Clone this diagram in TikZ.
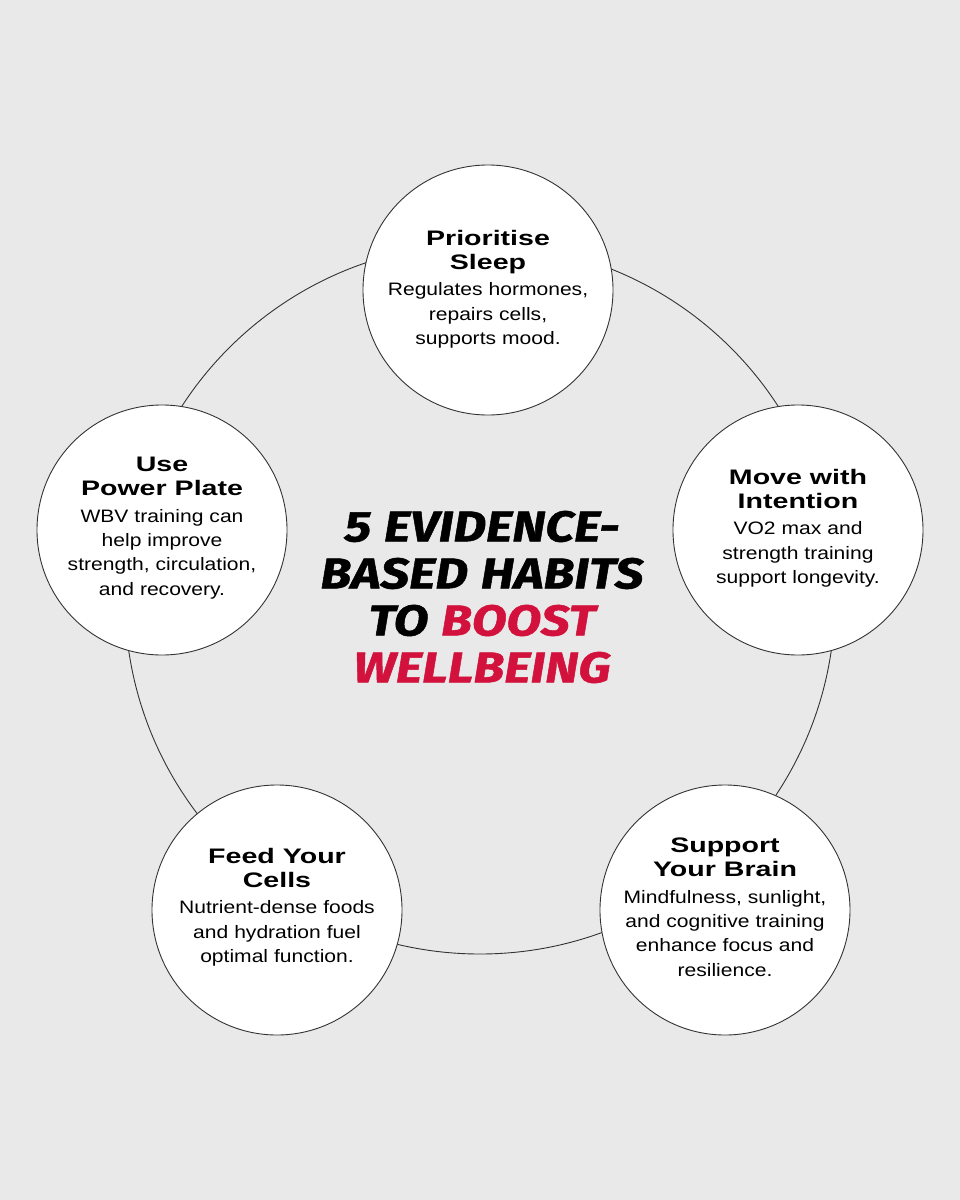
\documentclass[tikz,border=0pt]{standalone}
\usepackage{fontspec}
\newfontfamily\hfont{Liberation Sans}[FakeStretch=1.36]
\newfontfamily\bfont{Liberation Sans}[FakeStretch=1.17]
\newfontfamily\titlefont{Fira Sans}[FakeBold=1.2, FakeStretch=1.18]
\definecolor{bgc}{HTML}{E9E9E9}
\definecolor{linec}{HTML}{333333}
\definecolor{boostred}{HTML}{D2123C}
\newcommand\habitbox[2]{{\hfont\bfseries\fontsize{21}{24}\selectfont\spaceskip=0.38em #1\par}\vspace{2.5pt}{\bfont\fontsize{18}{24.3}\selectfont\spaceskip=0.33em #2\par}}
\tikzset{
  habit/.style={circle, draw=linec, line width=0.9pt, fill=white, minimum size=250pt, inner sep=0pt},
  habittext/.style={inner sep=0pt, text width=240pt, align=center},
  ring/.style={draw=linec, line width=0.9pt},
  title/.style={align=center, font={\titlefont\bfseries\itshape\fontsize{43}{47}\selectfont\spaceskip=0.3em}}
}
\begin{document}
\begin{tikzpicture}[x=1pt,y=-1pt]
\fill[bgc] (0,0) rectangle (960,1200);
\useasboundingbox (0,0) rectangle (960,1200);
\coordinate (c) at (480,599);
\draw[ring] (c) circle[radius=355];
\node[habit] (sleep) at (488,290) {};
\node[habit] (move) at (798,530) {};
\node[habit] (power) at (162,530) {};
\node[habit] (feed) at (277,910) {};
\node[habit] (brain) at (725,910) {};
\node[habittext] (sleept) at ([yshift=1pt]sleep.center) {\habitbox{Prioritise\\Sleep}{Regulates hormones,\\repairs cells,\\supports mood.}};
\node[habittext] (movet) at ([yshift=2pt]move.center) {\habitbox{Move with\\Intention}{VO2 max and\\strength training\\support longevity.}};
\node[habittext] (powert) at ([yshift=2pt]power.center) {\habitbox{Use\\Power Plate}{WBV training can\\help improve\\strength, circulation,\\and recovery.}};
\node[habittext] (feedt) at ([yshift=3pt]feed.center) {\habitbox{Feed Your\\Cells}{Nutrient-dense foods\\and hydration fuel\\optimal function.}};
\node[habittext] (braint) at ([yshift=3pt]brain.center) {\habitbox{Support\\Your Brain}{Mindfulness, sunlight,\\and cognitive training\\enhance focus and\\resilience.}};
\node[title] (ttl) at (482,597) {5 EVIDENCE-\\BASED HABITS\\TO {\color{boostred}BOOST}\\{\color{boostred}WELLBEING}};
\end{tikzpicture}
\end{document}
